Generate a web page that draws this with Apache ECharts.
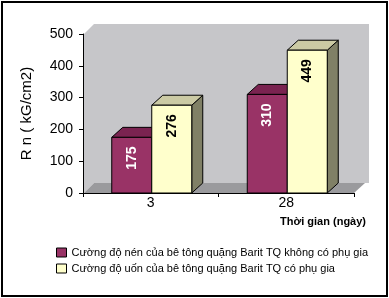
<!DOCTYPE html>
<html><head><meta charset="utf-8">
<script src="https://cdn.jsdelivr.net/npm/echarts@6/dist/echarts.min.js"></script>
<style>html,body{margin:0;padding:0;background:#fff}#c{width:389px;height:298px}</style>
</head><body><div id="c"></div>
<script>
const categories = ['3', '28'];
const seriesNames = ['Cường độ nén của bê tông quặng Barit TQ không có phụ gia', 'Cường độ uốn của bê tông quặng Barit TQ có phụ gia'];
const compressive = [175, 310];
const flexural = [276, 449];
const yAxisName = 'R n ( kG/cm2)';
const xAxisName = 'Thời gian (ngày)';
const yMin = 0, yMax = 500, yStep = 100;

const FONT = '"Liberation Sans", Arial, sans-serif';
const DX = 11, DY = -10, BAR_W = 40, SHIFT = 1;
const palette = [
  {front:'#993366', top:'#7a2350', side:'#5e1a3d', label:'#ffffff'},
  {front:'#ffffcc', top:'#cbcaa4', side:'#808066', label:'#000000'}
];

function barRenderer(si){
  return function(params, api){
    const c = api.value(0), v = api.value(1);
    const base = api.coord([c, 0]);
    const topP = api.coord([c, v]);
    const x = base[0] - BAR_W + si*BAR_W + SHIFT;
    const yb = base[1], yt = topP[1];
    const p = palette[si];
    const st = {stroke:'#000', lineWidth:1};
    return {type:'group', children:[
      {type:'polygon', shape:{points:[[x+BAR_W,yt],[x+BAR_W+DX,yt+DY],[x+BAR_W+DX,yb+DY],[x+BAR_W,yb]]}, style:Object.assign({fill:p.side}, st)},
      {type:'polygon', shape:{points:[[x,yt],[x+DX,yt+DY],[x+BAR_W+DX,yt+DY],[x+BAR_W,yt]]}, style:Object.assign({fill:p.top}, st)},
      {type:'rect', shape:{x:x, y:yt, width:BAR_W, height:yb-yt}, style:Object.assign({fill:p.front}, st)},
      {type:'text', x:x+BAR_W/2, y:yt+9, rotation:Math.PI/2, style:{text:String(v), fill:p.label, font:'bold 14px '+FONT, align:'right', verticalAlign:'middle'}}
    ]};
  };
}

function wallRenderer(params, api){
  const cs = params.coordSys;
  const L = cs.x, T = cs.y, R = cs.x + cs.width, B = cs.y + cs.height;
  return {type:'group', children:[
    {type:'rect', shape:{x:L+DX, y:T+DY, width:R-L+4, height:B-T}, style:{fill:'#c6c6c9'}},
    {type:'polygon', shape:{points:[[L+1,T],[L+DX,T+DY],[L+DX,B+DY],[L+1,B]]}, style:{fill:'#c6c6c9'}},
    {type:'polygon', shape:{points:[[L+1,B],[L+DX,B+DY],[R+DX,B+DY],[R,B]]}, style:{fill:'#9a9a9d'}}
  ]};
}

const chart = echarts.init(document.getElementById('c'), null, {renderer:'canvas'});
chart.setOption({
  backgroundColor:'#fff',
  animation:false,
  textStyle:{fontFamily:FONT},
  grid:{left:83, top:34, width:271, height:159},
  xAxis:{
    type:'category', data:categories,
    axisLine:{lineStyle:{color:'#000', width:1}},
    axisTick:{show:true, length:4, lineStyle:{color:'#000'}},
    axisLabel:{fontSize:14, color:'#000', margin:3, fontFamily:FONT},
    name:xAxisName, nameLocation:'end', nameGap:12,
    nameTextStyle:{fontSize:11, fontWeight:'bold', color:'#000', align:'right', verticalAlign:'top', padding:[23,0,0,0], fontFamily:FONT}
  },
  yAxis:{
    type:'value', min:yMin, max:yMax, interval:yStep,
    axisLine:{show:true, lineStyle:{color:'#000', width:1}},
    axisTick:{show:true, length:4, lineStyle:{color:'#000'}},
    splitLine:{show:false},
    axisLabel:{fontSize:14, color:'#000', margin:10, fontFamily:FONT},
    name:yAxisName, nameLocation:'middle', nameGap:49,
    nameTextStyle:{fontSize:15, color:'#000', fontFamily:FONT}
  },
  legend:{
    orient:'vertical', left:56, top:247, padding:0, itemWidth:10, itemHeight:9, itemGap:5, icon:'rect',
    data:seriesNames,
    textStyle:{fontSize:11, color:'#000', fontFamily:FONT},
    itemStyle:{borderColor:'#000', borderWidth:1}
  },
  graphic:[{type:'rect', shape:{x:2, y:2, width:385, height:294}, style:{fill:null, stroke:'#000', lineWidth:2}, silent:true}],
  series:[
    {type:'custom', name:'wall', renderItem:wallRenderer, data:[[0,0]], z:-1, silent:true},
    {type:'custom', name:seriesNames[0], renderItem:barRenderer(0), data:categories.map((c,i)=>[i, compressive[i]]), encode:{x:0, y:1}, itemStyle:{color:palette[0].front}, z:3},
    {type:'custom', name:seriesNames[1], renderItem:barRenderer(1), data:categories.map((c,i)=>[i, flexural[i]]), encode:{x:0, y:1}, itemStyle:{color:palette[1].front}, z:4}
  ]
});
</script></body></html>
